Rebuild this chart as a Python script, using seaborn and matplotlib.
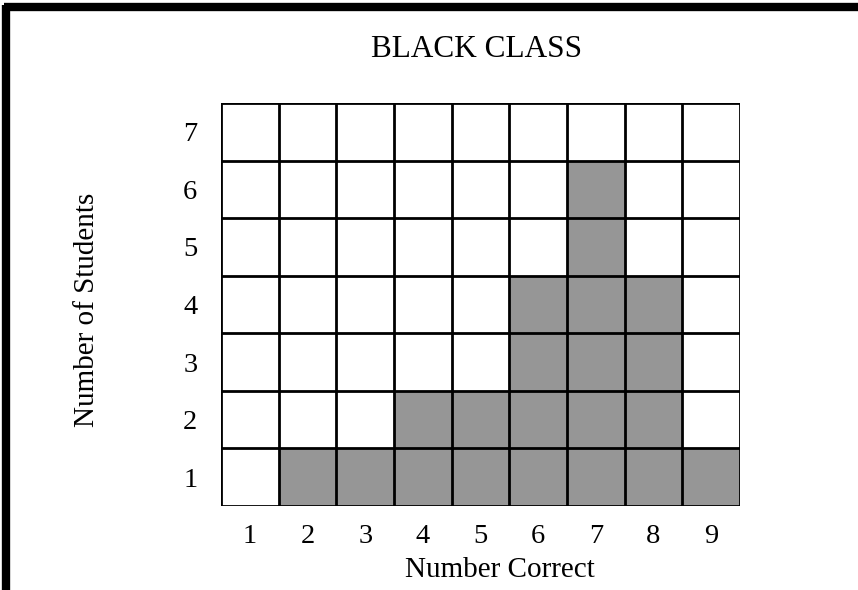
import matplotlib
matplotlib.use("Agg")
import matplotlib.pyplot as plt
import seaborn as sns
import pandas as pd

# Number of students for each score
scores = [1, 2, 3, 4, 5, 6, 7, 8, 9]
students = [0, 1, 1, 2, 2, 4, 6, 4, 1]
y_levels = [1, 2, 3, 4, 5, 6, 7]

sns.set_theme(style="white")
plt.rcParams["font.family"] = ["Liberation Serif", "DejaVu Serif"]

df = pd.DataFrame({"score": scores, "students": students})

fig = plt.figure(figsize=(8.58, 5.90), dpi=100)
ax = fig.add_axes([0.2576, 0.1424, 0.6049, 0.6830])

sns.barplot(data=df, x="score", y="students", native_scale=True, width=1.0,
            color="#969696", saturation=1, edgecolor="none", linewidth=0, ax=ax)

ax.set_xlim(0.5, 9.5)
ax.set_ylim(0, len(y_levels))

# grid of unit cells
for xv in [s - 0.5 for s in scores] + [scores[-1] + 0.5]:
    ax.axvline(xv, color="black", lw=2, zorder=3)
for yv in range(0, len(y_levels) + 1):
    ax.axhline(yv, color="black", lw=2, zorder=3)

for sp in ax.spines.values():
    sp.set_visible(False)

ax.set_xticks(scores)
ax.set_xticklabels([str(s) for s in scores], fontsize=20.5)
ax.set_yticks([v - 0.5 for v in y_levels])
ax.set_yticklabels([str(v) for v in y_levels], fontsize=20.5)
ax.tick_params(axis="x", length=0, pad=13, colors="black")
ax.tick_params(axis="y", length=0, pad=17, colors="black")

ax.set_xlabel("Number Correct", fontsize=21, labelpad=6, color="black")
ax.xaxis.label.set_x(0.537)
ax.set_ylabel("Number of Students", fontsize=21, labelpad=60, color="black")
ax.yaxis.label.set_y(0.486)
ax.set_title("BLACK CLASS", fontsize=22.5, pad=33, color="black")
ax.title.set_x(0.492)

# frame along the top and left edges of the figure
fig.add_artist(plt.Line2D([0.0045, 1.0], [0.9875, 0.9875], color="black", lw=6,
                          transform=fig.transFigure, solid_capstyle="butt"))
fig.add_artist(plt.Line2D([0.0070, 0.0070], [0.0, 0.992], color="black", lw=6,
                          transform=fig.transFigure, solid_capstyle="butt"))

fig.savefig("out.png", dpi=100)
